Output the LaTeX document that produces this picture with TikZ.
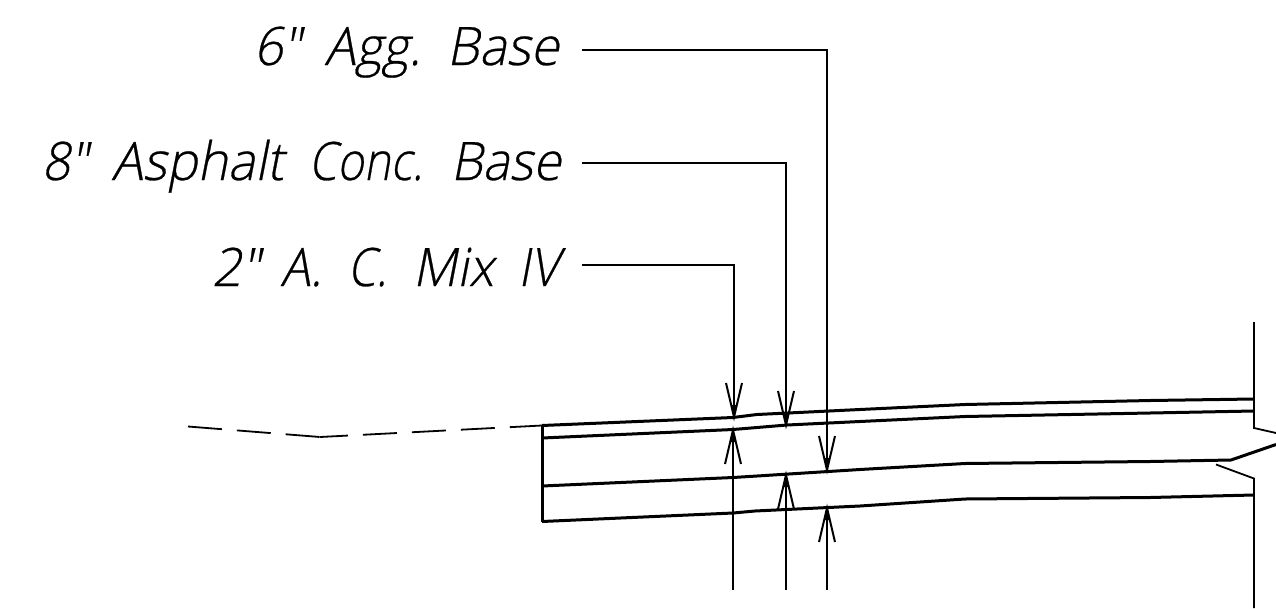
\documentclass[tikz,border=0pt]{standalone}
\usepackage{fontspec}
\usepackage{graphicx}
\newfontfamily\labfont[FakeSlant=0.2,FakeBold=0.5]{Open Sans Light}
\newcommand{\wordbox}[2]{\resizebox{#1pt}{\height}{#2}}
\tikzset{
  thick line/.style={line width=3pt,line join=round},
  thin line/.style={line width=1.8pt},
  lab/.style={inner sep=0pt,anchor=base east,font=\labfont\fontsize{53}{53}\selectfont},
  tipm/.style={line width=2pt,line join=miter},
}
\newcommand{\headdown}[2]{\draw[tipm] (#1-8,#2-34) -- (#1,#2) -- (#1+8,#2-34);\fill (#1-3,#2-12) -- (#1,#2) -- (#1+3,#2-12) -- cycle;}
\newcommand{\headup}[2]{\draw[tipm] (#1-8,#2+34) -- (#1,#2) -- (#1+8,#2+34);\fill (#1-3,#2+12) -- (#1,#2) -- (#1+3,#2+12) -- cycle;}
\begin{document}
\begin{tikzpicture}[x=1pt,y=-1pt]
\useasboundingbox (0,0) rectangle (1276,608);
\node[lab] (t1) at (559,65) {\wordbox{47}{6″}\hspace{24pt}\wordbox{96}{Agg.}\hspace{26pt}\wordbox{112}{Base}};
\node[lab] (t2) at (561,180) {\wordbox{46}{8″}\hspace{24pt}\wordbox{172}{Asphalt}\hspace{25pt}\wordbox{114}{Conc.}\hspace{28pt}\wordbox{110}{Base}};
\node[lab] (t3) at (559,286) {\wordbox{48}{2″}\hspace{21pt}\wordbox{41}{A.}\hspace{26pt}\wordbox{39}{C.}\hspace{26pt}\wordbox{81}{Mix}\hspace{24pt}\wordbox{41}{IV}};
\coordinate (s1) at (582,50);
\coordinate (s2) at (582,163);
\coordinate (s3) at (582,265);
\coordinate (e1) at (827,470);
\coordinate (e2) at (786,425);
\coordinate (e3) at (734,417);
\draw[thin line] (s1) -| (e1);
\draw[thin line] (s2) -| (e2);
\draw[thin line] (s3) -| (e3);
\headdown{827}{470}
\headdown{786}{425}
\headdown{734}{417}
\draw[thin line] (733,430) -- (733,590);
\draw[thin line] (786,476) -- (786,590);
\draw[thin line] (827,506) -- (827,590);
\headup{733}{430}
\headup{786}{475}
\headup{827}{508}
\draw[thick line] (542,425.5) -- (733,417.5) -- (757,414.5) -- (860,409.5) -- (965,404.5) -- (1150,400.5) -- (1254,399);
\draw[thick line] (542,438) -- (733,429.5) -- (787,425) -- (860,421.5) -- (965,416.5) -- (1150,413) -- (1254,411);
\draw[thick line] (542,486) -- (733,477.5) -- (757,476) -- (860,469.5) -- (965,463.5) -- (1150,461.5) -- (1231,460) -- (1276,444.5);
\draw[thick line] (542,521.5) -- (733,513) -- (755,511) -- (860,506) -- (965,499) -- (1150,497.5) -- (1254,495);
\draw[thick line] (542,425.5) -- (542,521.5);
\draw[thin line] (1254,322) -- (1254,428) -- (1276,433);
\draw[thin line] (1216,464.5) -- (1254,478.5) -- (1254,608);
\draw[thin line,dash pattern=on 34pt off 15pt] (188,426.5) -- (320,437);
\draw[thin line,dash pattern=on 28pt off 15pt on 34pt off 15pt on 34pt off 15pt on 34pt off 15pt on 34pt off 100pt] (320,437) -- (542,425.5);
\end{tikzpicture}
\end{document}
